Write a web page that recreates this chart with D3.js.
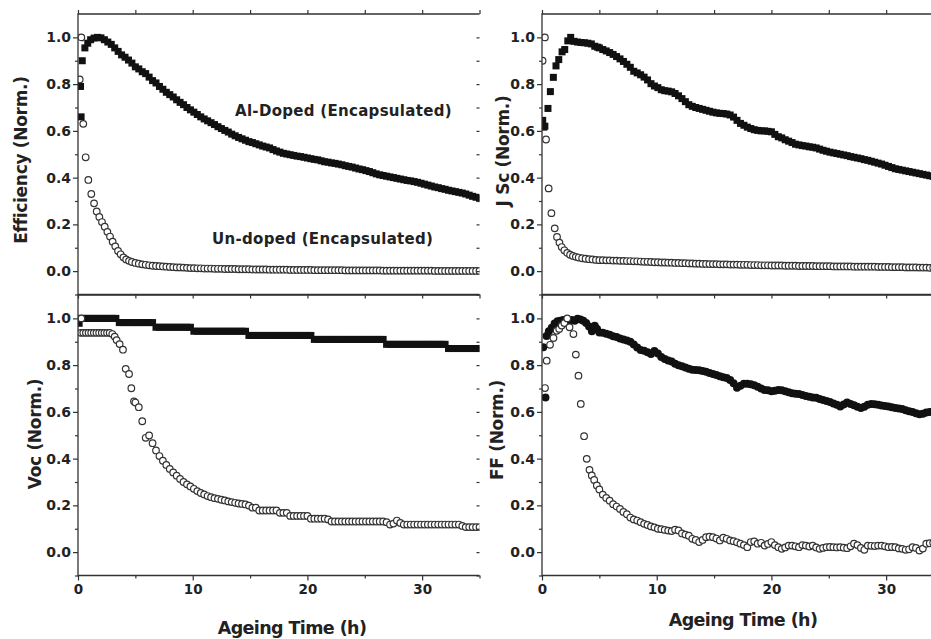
<!DOCTYPE html>
<html><head><meta charset="utf-8">
<script src="https://cdn.jsdelivr.net/npm/d3@7/dist/d3.min.js"></script>
<style>
body{margin:0;background:#fff}
text{font-family:"DejaVu Sans",sans-serif;font-weight:bold;fill:#222}
</style>
</head><body>
<svg id="chart" width="931" height="639"></svg>
<script>
// ---------- DATA ----------
const xTicks = [0, 10, 20, 30];
const yTicks = [0.0, 0.2, 0.4, 0.6, 0.8, 1.0];
const yTitles = ["Efficiency (Norm.)", "J Sc (Norm.)", "Voc (Norm.)", "FF (Norm.)"];
const xTitle = "Ageing Time (h)";
const annotations = ["Al-Doped (Encapsulated)", "Un-doped (Encapsulated)"];

// shared sampling times after 5 h (h)
const tailTimes = [5,5.3,5.6,5.9,6.2,6.5,6.8,7.1,7.4,7.7,
  8,8.3,8.6,8.9,9.2,9.5,9.8,10.1,10.4,10.7,
  11,11.3,11.6,11.9,12.2,12.5,12.8,13.1,13.4,13.7,
  14,14.3,14.6,14.9,15.2,15.5,15.8,16.1,16.4,16.7,
  17,17.3,17.6,17.9,18.2,18.5,18.8,19.1,19.4,19.7,
  20,20.3,20.6,20.9,21.2,21.5,21.8,22.1,22.4,22.7,
  23,23.3,23.6,23.9,24.2,24.5,24.8,25.1,25.4,25.7,
  26,26.3,26.6,26.9,27.2,27.5,27.8,28.1,28.4,28.7,
  29,29.3,29.6,29.9,30.2,30.5,30.8,31.1,31.4,31.7,
  32,32.3,32.6,32.9,33.2,33.5,33.8,34.1,34.4,34.7,35];

// Efficiency
const effAlEarly = [[0.22,0.79],[0.27,0.66],[0.37,0.90],[0.6,0.955],[0.85,0.975],[1.1,0.99],[1.4,0.997],[1.7,1.0],[2.0,0.998],[2.3,0.99],[2.6,0.98],[2.9,0.97],[3.2,0.955],[3.5,0.94],[3.8,0.925],[4.1,0.915],[4.4,0.903],[4.7,0.89]];
const effAlTail = [.874,.865,.853,.845,.830,.815,.805,.790,.778,.765,
  .755,.745,.733,.722,.712,.700,.690,.680,.670,.660,
  .651,.643,.635,.627,.618,.610,.602,.595,.586,.579,
  .572,.566,.560,.554,.550,.545,.540,.535,.531,.527,
  .520,.514,.509,.504,.501,.498,.495,.492,.490,.487,
  .484,.481,.478,.476,.472,.468,.466,.463,.461,.458,
  .455,.451,.448,.445,.441,.437,.434,.430,.426,.421,
  .416,.412,.409,.406,.403,.400,.397,.394,.391,.388,
  .386,.383,.380,.376,.372,.368,.364,.360,.357,.353,
  .350,.346,.343,.340,.337,.334,.330,.325,.320,.316,.312];
const effUnEarly = [[0.15,0.82],[0.29,1.0],[0.46,0.63],[0.67,0.487],[0.9,0.39],[1.16,0.33],[1.4,0.29],[1.63,0.255],[1.86,0.232],[2.09,0.21],[2.33,0.19],[2.56,0.168],[2.79,0.148],[3.02,0.126],[3.25,0.106],[3.49,0.086],[3.72,0.072],[3.96,0.059],[4.2,0.05],[4.45,0.044],[4.7,0.039]];
const effUnTail = [.035,.032,.029,.027,.025,.023,.022,.021,.020,.019,
  .018,.017,.016,.016,.015,.014,.013,.013,.012,.012,
  .011,.011,.011,.010,.010,.010,.009,.009,.009,.009,
  .008,.008,.008,.008,.007,.007,.007,.007,.007,.006,
  .006,.006,.006,.006,.006,.005,.005,.005,.005,.005,
  .005,.005,.004,.004,.004,.004,.004,.004,.004,.004,
  .004,.003,.003,.003,.003,.003,.003,.003,.003,.003,
  .003,.003,.002,.002,.002,.002,.002,.002,.002,.002,
  .002,.002,.002,.002,.002,.002,.002,.001,.001,.001,
  .001,.001,.001,.001,.001,.001,.001,.001,.001,.001,.001];

// Jsc
const jscAlEarly = [[0.06,0.645],[0.15,0.616],[0.25,0.62],[0.52,0.696],[0.73,0.768],[0.99,0.829],[1.22,0.878],[1.46,0.905],[1.75,0.938],[1.98,0.948],[2.25,0.985],[2.5,1.0],[2.8,0.983],[3.1,0.98],[3.4,0.978],[3.7,0.977],[4.0,0.975],[4.3,0.972],[4.6,0.962],[4.85,0.958]];
const jscAlTail = [.955,.948,.942,.935,.927,.918,.908,.897,.885,.872,
  .855,.848,.840,.830,.818,.802,.792,.785,.776,.772,
  .770,.767,.760,.750,.738,.725,.712,.705,.700,.696,
  .692,.688,.684,.680,.677,.675,.674,.672,.668,.659,
  .645,.632,.624,.616,.610,.605,.602,.600,.600,.598,
  .596,.585,.575,.570,.562,.556,.550,.543,.540,.537,
  .535,.532,.530,.527,.522,.517,.513,.509,.506,.503,
  .500,.497,.494,.490,.487,.484,.481,.477,.474,.470,
  .466,.462,.458,.453,.448,.443,.438,.435,.432,.429,
  .426,.423,.420,.417,.414,.411,.408,.405,.402,.399,.396];
const jscUnEarly = [[0.05,0.90],[0.25,1.0],[0.35,0.563],[0.58,0.354],[0.82,0.248],[1.11,0.183],[1.31,0.146],[1.52,0.122],[1.72,0.103],[1.95,0.089],[2.2,0.078],[2.45,0.07],[2.7,0.065],[2.95,0.061],[3.2,0.058],[3.5,0.055],[3.8,0.053],[4.1,0.051],[4.4,0.05],[4.7,0.048]];
const jscUnTail = [.047,.047,.046,.046,.045,.045,.044,.044,.043,.043,
  .042,.042,.041,.040,.040,.039,.038,.038,.037,.037,
  .036,.036,.035,.035,.034,.034,.033,.033,.032,.032,
  .031,.031,.030,.030,.030,.029,.029,.029,.028,.028,
  .028,.027,.027,.027,.026,.026,.026,.025,.025,.025,
  .024,.024,.024,.024,.023,.023,.023,.023,.022,.022,
  .022,.022,.022,.021,.021,.021,.021,.021,.020,.020,
  .020,.020,.020,.020,.019,.019,.019,.019,.019,.019,
  .019,.018,.018,.018,.018,.017,.017,.017,.017,.016,
  .016,.016,.016,.015,.015,.015,.014,.014,.014,.013,.013];

// Voc
const vocAlEarly = [[0.1,0.979],[0.3,1.0],[0.6,1.0],[0.9,1.0],[1.2,1.0],[1.5,1.0],[1.8,1.0],[2.1,1.0],[2.4,1.0],[2.7,1.0],[3.0,1.0],[3.3,1.0],[3.6,0.982],[3.9,0.982],[4.2,0.982],[4.5,0.982],[4.8,0.982]];
const vocAlTail = [.982,.982,.982,.982,.982,.982,.962,.962,.962,.962,
  .962,.962,.962,.962,.962,.962,.962,.945,.945,.945,
  .945,.945,.945,.945,.945,.945,.945,.945,.945,.945,
  .945,.945,.945,.927,.927,.927,.927,.927,.927,.927,
  .927,.927,.927,.927,.927,.927,.927,.927,.927,.927,
  .927,.927,.910,.910,.910,.910,.910,.910,.910,.910,
  .910,.910,.910,.910,.910,.910,.910,.910,.910,.910,
  .910,.910,.910,.889,.889,.889,.889,.889,.889,.889,
  .889,.889,.889,.889,.889,.889,.889,.889,.889,.889,
  .889,.871,.871,.871,.871,.871,.871,.871,.871,.871,.871];
const vocUnEarly = [[0.29,1.0],[0.23,0.938],[0.46,0.938],[0.69,0.938],[0.92,0.938],[1.15,0.938],[1.38,0.938],[1.61,0.938],[1.84,0.938],[2.07,0.938],[2.3,0.938],[2.53,0.938],[2.76,0.938],[2.99,0.933],[3.2,0.922],[3.37,0.907],[3.63,0.89],[3.92,0.866],[4.16,0.784],[4.45,0.762],[4.65,0.701],[4.88,0.645]];
const vocUnTail = [.640,.620,.560,.489,.499,.466,.435,.411,.391,.373,
  .356,.341,.327,.313,.300,.290,.281,.271,.261,.253,
  .247,.240,.235,.231,.228,.224,.221,.217,.214,.211,
  .208,.206,.204,.199,.190,.190,.178,.178,.178,.178,
  .178,.178,.168,.168,.168,.155,.155,.155,.155,.155,
  .155,.143,.143,.143,.143,.143,.140,.131,.131,.131,
  .131,.131,.131,.131,.131,.131,.131,.131,.131,.131,
  .131,.131,.131,.128,.118,.122,.135,.125,.118,.118,
  .118,.118,.118,.118,.118,.118,.118,.118,.118,.118,
  .118,.118,.118,.118,.118,.112,.107,.107,.107,.107,.107];

// FF
const ffAlEarly = [[0.11,0.876],[0.3,0.662],[0.4,0.925],[0.6,0.945],[0.85,0.96],[1.1,0.978],[1.35,0.988],[1.6,0.99],[1.85,0.993],[2.1,0.987],[2.35,0.99],[2.6,0.993],[2.85,0.99],[3.1,0.998],[3.35,0.995],[3.6,0.99],[3.85,0.98],[4.1,0.965],[4.35,0.945],[4.6,0.968],[4.8,0.955]];
const ffAlTail = [.940,.938,.934,.930,.924,.920,.914,.910,.905,.900,
  .888,.875,.865,.862,.855,.848,.860,.850,.835,.826,
  .820,.815,.806,.800,.795,.790,.785,.780,.779,.778,
  .775,.772,.766,.762,.758,.752,.748,.745,.736,.722,
  .703,.712,.720,.720,.718,.714,.708,.700,.694,.692,
  .688,.690,.694,.693,.688,.684,.680,.678,.676,.672,
  .668,.665,.662,.660,.655,.651,.647,.642,.636,.630,
  .623,.632,.640,.634,.628,.622,.617,.622,.630,.634,
  .633,.630,.627,.625,.623,.620,.617,.614,.612,.607,
  .603,.599,.594,.590,.592,.597,.600,.598,.596,.597,.598];
const ffUnEarly = [[0.26,0.702],[0.41,0.819],[0.7,0.887],[1.0,0.916],[1.28,0.947],[1.5,0.955],[1.72,0.969],[1.95,0.98],[2.2,1.0],[2.4,0.962],[2.74,0.933],[2.95,0.845],[3.18,0.755],[3.38,0.634],[3.67,0.496],[3.9,0.399],[4.14,0.352],[4.34,0.328],[4.55,0.309],[4.78,0.285]];
const ffUnTail = [.268,.246,.232,.220,.205,.195,.185,.172,.162,.148,
  .140,.135,.128,.121,.116,.110,.106,.100,.098,.095,
  .092,.090,.096,.093,.080,.075,.070,.057,.052,.043,
  .052,.064,.066,.064,.058,.050,.062,.057,.050,.047,
  .042,.036,.030,.021,.043,.046,.036,.040,.028,.035,
  .043,.030,.021,.014,.020,.028,.028,.025,.021,.030,
  .028,.024,.028,.020,.014,.018,.021,.022,.021,.020,
  .021,.019,.017,.025,.036,.030,.018,.010,.028,.027,
  .026,.028,.028,.025,.021,.022,.021,.016,.014,.010,
  .012,.021,.018,.007,.015,.036,.038,.040,.035,.030,.028];

// ---------- CHART ----------
const svg = d3.select("#chart");
const join = (early, tail) => early.map(d => ({t: d[0], v: d[1]}))
  .concat(tail.map((v, i) => ({t: tailTimes[i], v})));

const panels = [
  {x0: 78, y0: 14, title: yTitles[0], tx: 21, ty: 160, al: join(effAlEarly, effAlTail), alShape: "square", un: join(effUnEarly, effUnTail), top: true, rightTicks: true},
  {x0: 542, y0: 14, title: yTitles[1], tx: 503, ty: 151, al: join(jscAlEarly, jscAlTail), alShape: "square", un: join(jscUnEarly, jscUnTail), top: true},
  {x0: 78, y0: 295, title: yTitles[2], tx: 35, ty: 434, al: join(vocAlEarly, vocAlTail), alShape: "square", un: join(vocUnEarly, vocUnTail), top: false, rightTicks: true, xtx: 292, xty: 634},
  {x0: 542, y0: 295, title: yTitles[3], tx: 497, ty: 430, al: join(ffAlEarly, ffAlTail), alShape: "circle", un: join(ffUnEarly, ffUnTail), top: false, xtx: 743, xty: 626}
];
const W = 401.5, H = 280.5;
const axisColor = "#333";

panels.forEach((p, i) => {
  const x = d3.scaleLinear().domain([0, 35]).range([p.x0, p.x0 + W]);
  const y = d3.scaleLinear().domain([-0.1, 1.1]).range([p.y0 + H, p.y0]);
  const g = svg.append("g");

  const clipId = "clip" + i;
  svg.append("clipPath").attr("id", clipId).append("rect")
    .attr("x", p.x0).attr("y", p.y0).attr("width", W).attr("height", H);

  const plot = g.append("g").attr("clip-path", `url(#${clipId})`);
  // Al-doped (filled)
  if (p.alShape === "square") {
    const s = 7;
    plot.selectAll("rect.al").data(p.al).join("rect").attr("class", "al")
      .attr("x", d => x(d.t) - s / 2).attr("y", d => y(d.v) - s / 2)
      .attr("width", s).attr("height", s).attr("fill", "#111");
  } else {
    plot.selectAll("circle.al").data(p.al).join("circle").attr("class", "al")
      .attr("cx", d => x(d.t)).attr("cy", d => y(d.v)).attr("r", 4).attr("fill", "#111");
  }
  // Un-doped (open circles)
  plot.selectAll("circle.un").data(p.un).join("circle").attr("class", "un")
    .attr("cx", d => x(d.t)).attr("cy", d => y(d.v)).attr("r", 3.3)
    .attr("fill", "#fff").attr("stroke", "#333").attr("stroke-width", 1.2);

  const styleAxis = sel => {
    sel.select(".domain").remove();
    sel.selectAll("line").attr("stroke", axisColor).attr("stroke-width", 1.2);
    sel.selectAll("text").attr("fill", "#222");
  };
  const minorY = [-0.1, 0.1, 0.3, 0.5, 0.7, 0.9];
  const minorX = [5, 15, 25, 35];

  // left axis
  g.append("g").attr("transform", `translate(${p.x0},0)`)
    .call(d3.axisLeft(y).tickValues(yTicks).tickFormat(d3.format(".1f")).tickSize(5).tickPadding(2))
    .call(styleAxis)
    .selectAll("text").style("font-size", "14px").style("font-family", "DejaVu Sans").style("font-weight", "bold");
  g.append("g").attr("transform", `translate(${p.x0},0)`)
    .call(d3.axisLeft(y).tickValues(minorY).tickFormat("").tickSize(3)).call(styleAxis);

  // right inward ticks
  if (p.rightTicks) {
    g.append("g").attr("transform", `translate(${p.x0 + W},0)`)
      .call(d3.axisRight(y).tickValues(yTicks.concat(minorY)).tickFormat("").tickSize(-3)).call(styleAxis);
  }
  // top ticks
  if (p.top) {
    g.append("g").attr("transform", `translate(0,${p.y0})`)
      .call(d3.axisTop(x).tickValues(xTicks.concat(minorX)).tickFormat("").tickSize(4)).call(styleAxis);
  }
  // bottom axis
  const bx = g.append("g").attr("transform", `translate(0,${p.y0 + H})`);
  if (p.top) {
    bx.call(d3.axisBottom(x).tickValues(xTicks.concat(minorX)).tickFormat("").tickSize(4)).call(styleAxis);
  } else {
    bx.call(d3.axisBottom(x).tickValues(xTicks).tickFormat(d3.format("d")).tickSize(5).tickPadding(4))
      .call(styleAxis)
      .selectAll("text").style("font-size", "13.5px").style("font-family", "DejaVu Sans").style("font-weight", "bold");
    g.append("g").attr("transform", `translate(0,${p.y0 + H})`)
      .call(d3.axisBottom(x).tickValues(minorX).tickFormat("").tickSize(3)).call(styleAxis);
    g.append("text").attr("x", p.xtx).attr("y", p.xty).attr("text-anchor", "middle")
      .style("font-size", "17.5px").style("letter-spacing", "-0.6px").text(xTitle);
  }

  // frame: left, top, bottom
  g.append("path")
    .attr("d", `M${p.x0 + W},${p.y0}H${p.x0}V${p.y0 + H}H${p.x0 + W}`)
    .attr("fill", "none").attr("stroke", axisColor).attr("stroke-width", 1.3);

  // y title
  g.append("text").attr("transform", `translate(${p.tx},${p.ty}) rotate(-90)`)
    .attr("text-anchor", "middle").attr("dominant-baseline", "central")
    .style("font-size", "17px").style("letter-spacing", "-0.3px").text(p.title);
});

svg.append("text").attr("x", 235).attr("y", 116).style("font-size", "15px").style("letter-spacing", "0.3px").text(annotations[0]);
svg.append("text").attr("x", 212).attr("y", 244).style("font-size", "15px").style("letter-spacing", "0.3px").text(annotations[1]);
</script>
</body></html>
